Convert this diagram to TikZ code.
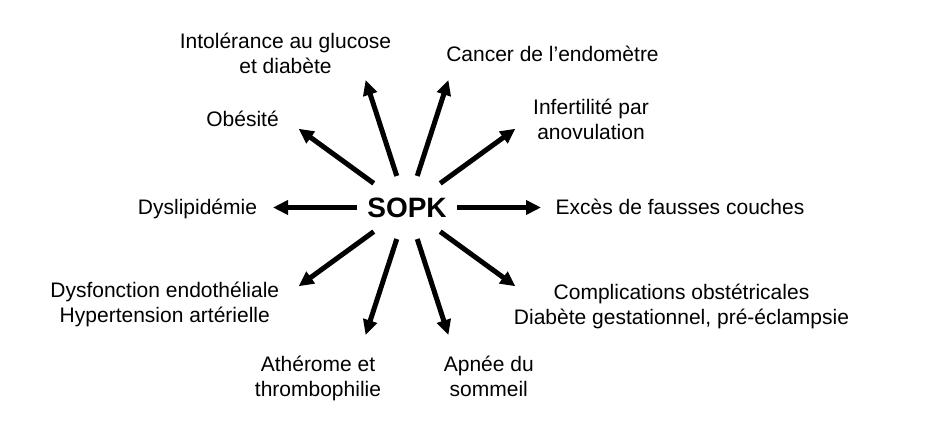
\documentclass[tikz,border=0pt]{standalone}
\usepackage{fontspec}
\setmainfont{Liberation Sans}
\usetikzlibrary{arrows.meta,shapes.geometric}

\begin{document}
\begin{tikzpicture}
                [x=1pt, y=1pt,
                    every node/.style={font=\fontsize{21}{25}\selectfont, align=center, inner sep=0pt},
                    fleche/.style={line width=5pt, -{Triangle[length=15pt,width=14pt]}},
                ]
                \useasboundingbox (0,0) rectangle (934,426);
                \node[ellipse, minimum width=100pt, minimum height=64pt, inner xsep=-6pt,
                    font=\fontsize{28}{30}\selectfont\bfseries] (sopk) at (407,218.5) {SOPK};
                \node (intol) at (285.5,372.9) {Intolérance au glucose\\et diabète};
                \node (cancer) at (552.5,371.8) {Cancer de l’endomètre};
                \node (obes) at (242.5,306.8) {Obésité};
                \node (infert) at (591,306.8) {Infertilité par\\anovulation};
                \node (dysl) at (197.5,217.5) {Dyslipidémie};
                \node (exces) at (680,219) {Excès de fausses couches};
                \node (dysf) at (164.8,122) {Dysfonction endothéliale\\Hypertension artérielle};
                \node (compl) at (681.5,119.5) {Complications obstétricales\\Diabète gestationnel, pré-éclampsie};
                \node (athe) at (318,47.5) {Athérome et\\thrombophilie};
                \node (apnee) at (488.8,49.4) {Apnée du\\sommeil};
                \foreach \a/\n in {0/exces,36/infert,72/cancer,108/intol,144/obes,
                    180/dysl,216/dysf,252/athe,288/apnee,324/compl}{
                    \coordinate (tip-\n) at ([shift={(\a:134)}]sopk.center);
                    \draw[fleche] (sopk.\a) -- (tip-\n);
                }
            \end{tikzpicture}
\end{document}
